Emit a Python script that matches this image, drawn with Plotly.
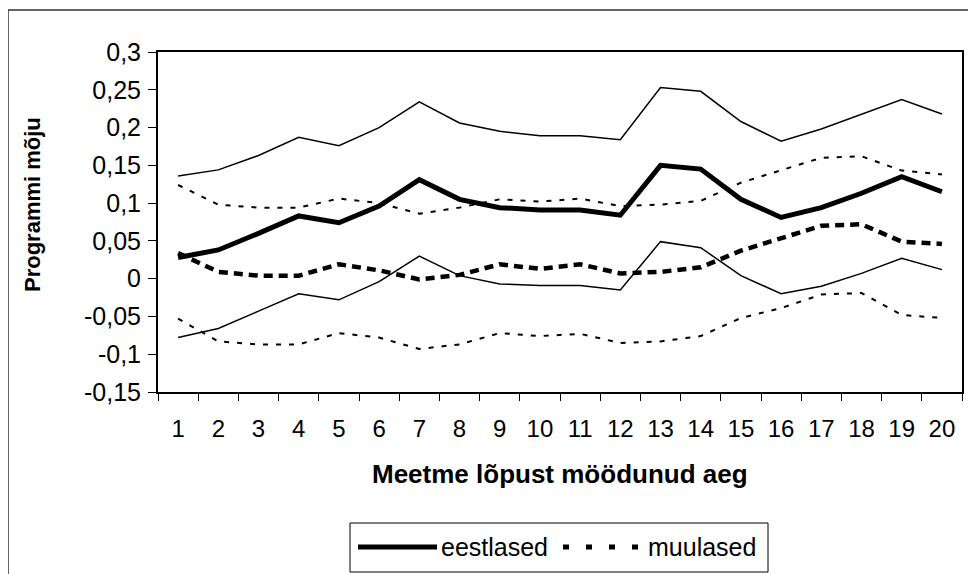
import plotly.graph_objects as go

categories = [str(i) for i in range(1, 21)]

eestlased = [0.028, 0.038, 0.060, 0.083, 0.074, 0.096, 0.131, 0.105, 0.094, 0.091,
             0.091, 0.084, 0.150, 0.145, 0.105, 0.081, 0.094, 0.113, 0.135, 0.115]
eestlased_upper = [0.136, 0.144, 0.163, 0.187, 0.176, 0.200, 0.234, 0.206, 0.195, 0.189,
                   0.189, 0.184, 0.253, 0.248, 0.208, 0.182, 0.198, 0.217, 0.237, 0.218]
eestlased_lower = [-0.078, -0.066, -0.043, -0.020, -0.028, -0.004, 0.030, 0.004, -0.007, -0.009,
                   -0.009, -0.015, 0.049, 0.041, 0.004, -0.020, -0.010, 0.007, 0.027, 0.012]

muulased = [0.034, 0.009, 0.004, 0.004, 0.019, 0.011, -0.001, 0.005, 0.019, 0.013,
            0.019, 0.007, 0.009, 0.015, 0.037, 0.053, 0.070, 0.072, 0.049, 0.046]
muulased_upper = [0.124, 0.098, 0.094, 0.094, 0.106, 0.100, 0.086, 0.094, 0.105, 0.102,
                  0.106, 0.096, 0.098, 0.103, 0.127, 0.143, 0.160, 0.162, 0.143, 0.138]
muulased_lower = [-0.053, -0.083, -0.087, -0.087, -0.072, -0.078, -0.093, -0.087, -0.072, -0.076,
                  -0.073, -0.085, -0.083, -0.076, -0.052, -0.039, -0.021, -0.019, -0.048, -0.052]

y_tickvals = [-0.15, -0.1, -0.05, 0, 0.05, 0.1, 0.15, 0.2, 0.25, 0.3]
y_ticktext = ["-0,15", "-0,1", "-0,05", "0", "0,05", "0,1", "0,15", "0,2", "0,25", "0,3"]

series_names = ["eestlased", "muulased"]
x_title = "Meetme lõpust möödunud aeg"
y_title = "Programmi mõju"

FONT = "Liberation Sans, Arial, sans-serif"

W, H = 976, 574
OFF = 8  # page body margin offset
# plot area in screen (reference) pixels
SL, SR, ST, SB = 158, 962, 52, 392
L, R, T, B = SL - OFF, SR - OFF, ST - OFF, SB - OFF


def px(x):
    return (x - SL) / (SR - SL)


def py(y):
    return (SB - y) / (SB - ST)


fig = go.Figure()

thin_solid = dict(color="black", width=1.5)
thin_dot = dict(color="black", width=2, dash="5px,8px")

fig.add_trace(go.Scatter(x=categories, y=eestlased_upper, mode="lines", line=thin_solid, showlegend=False))
fig.add_trace(go.Scatter(x=categories, y=eestlased_lower, mode="lines", line=thin_solid, showlegend=False))
fig.add_trace(go.Scatter(x=categories, y=muulased_upper, mode="lines", line=thin_dot, showlegend=False))
fig.add_trace(go.Scatter(x=categories, y=muulased_lower, mode="lines", line=thin_dot, showlegend=False))
fig.add_trace(go.Scatter(x=categories, y=muulased, mode="lines", name=series_names[1],
                         line=dict(color="black", width=4.5, dash="9px,6px"), showlegend=False))
fig.add_trace(go.Scatter(x=categories, y=eestlased, mode="lines", name=series_names[0],
                         line=dict(color="black", width=5), showlegend=False))

shapes = [
    # outer chart border
    dict(type="rect", xref="paper", yref="paper", x0=px(8), x1=px(1000), y0=py(600), y1=py(10),
         line=dict(color="#333333", width=1.5), fillcolor="rgba(0,0,0,0)", layer="below"),
    # legend box
    dict(type="rect", xref="paper", yref="paper", x0=px(350), x1=px(768), y0=py(572), y1=py(523),
         line=dict(color="black", width=1), fillcolor="white"),
    dict(type="line", xref="paper", yref="paper", x0=px(358), x1=px(437), y0=py(547), y1=py(547),
         line=dict(color="black", width=5)),
    dict(type="line", xref="paper", yref="paper", x0=px(563), x1=px(642), y0=py(547), y1=py(547),
         line=dict(color="black", width=5, dash="6px,17px")),
]

annotations = [
    dict(text=f"<b>{x_title}</b>", xref="paper", yref="paper", x=0.5, y=py(474),
         xanchor="center", yanchor="middle", showarrow=False, font=dict(family=FONT, size=26, color="black")),
    dict(text=f"<b>{y_title}</b>", xref="paper", yref="paper", x=px(33), y=py(205),
         xanchor="center", yanchor="middle", textangle=-90, showarrow=False,
         font=dict(family=FONT, size=22, color="black")),
    dict(text=series_names[0], xref="paper", yref="paper", x=px(439), y=py(547),
         xanchor="left", yanchor="middle", showarrow=False, font=dict(family=FONT, size=25, color="black")),
    dict(text=series_names[1], xref="paper", yref="paper", x=px(646), y=py(547),
         xanchor="left", yanchor="middle", showarrow=False, font=dict(family=FONT, size=25, color="black")),
]

fig.update_layout(
    width=W, height=H,
    margin=dict(l=L, r=W - R, t=T, b=H - B),
    paper_bgcolor="white", plot_bgcolor="white",
    font=dict(family=FONT, size=24, color="black"),
    shapes=shapes, annotations=annotations,
    showlegend=False,
)

fig.update_xaxes(
    type="category", range=[-0.5, len(categories) - 0.5], tickson="boundaries",
    ticks="outside", ticklen=7, tickwidth=1, tickcolor="black",
    showline=True, linecolor="black", linewidth=2, mirror=True, showgrid=False, zeroline=False,
    tickfont=dict(family=FONT, size=24, color="black"), ticklabelstandoff=14,
)
fig.update_yaxes(
    range=[-0.15, 0.3], tickvals=y_tickvals, ticktext=y_ticktext, ticks="outside", ticklen=8,
    tickwidth=1, tickcolor="black",
    showline=True, linecolor="black", linewidth=2, mirror=True, showgrid=False, zeroline=False,
    tickfont=dict(family=FONT, size=25, color="black"), ticklabelstandoff=2,
)

fig.write_html("out.html")
